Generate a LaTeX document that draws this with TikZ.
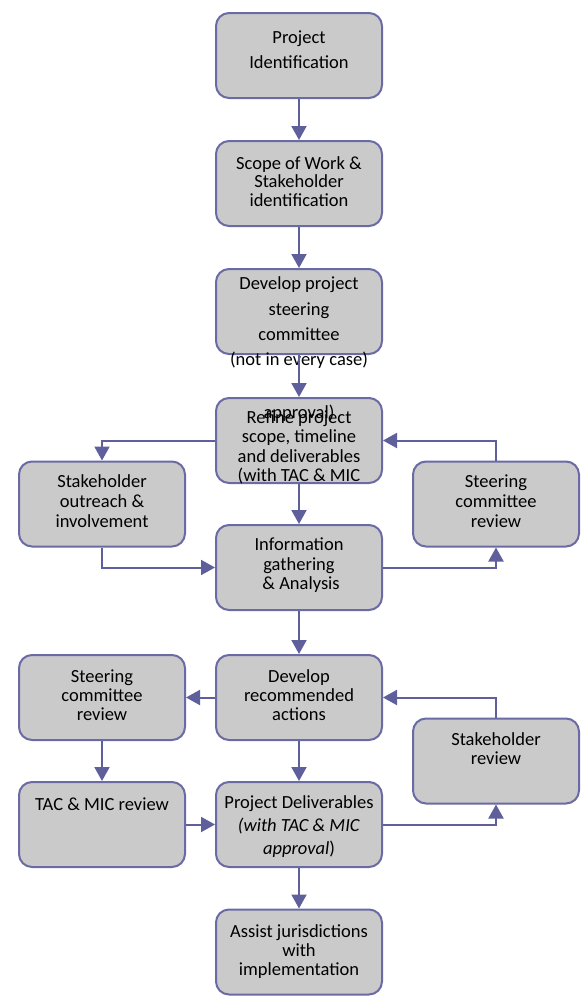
\documentclass[tikz,border=0pt]{standalone}
\usepackage{fontspec}
\setmainfont{Carlito}
\usetikzlibrary{arrows.meta}
\definecolor{boxfill}{HTML}{CACACA}
\definecolor{boxline}{HTML}{6A6AA4}
\definecolor{arrowcol}{HTML}{5F5F9B}
\tikzset{
  box/.style={draw=boxline, fill=boxfill, line width=2pt, rounded corners=13pt,
    minimum width=166pt, minimum height=85pt, inner sep=0pt},
  txt/.style={font=\fontsize{18.5}{#1}\selectfont, align=center, inner sep=0pt},
  txt/.default=19.5,
  arr/.style={draw=arrowcol, line width=2pt, -{Triangle[length=14pt,width=15pt]}}
}
\begin{document}
\begin{tikzpicture}[x=1pt,y=-1pt]
\useasboundingbox (0,0) rectangle (587,996);
% central column
\node[box] (b1) at (299,55.5) {};
\node[box] (b2) at (299,183.5) {};
\node[box] (b3) at (299,311.5) {};
\node[box] (b4) at (299,440.5) {};
\node[box] (b5) at (299,567.5) {};
\node[box] (b6) at (299,697.5) {};
\node[box] (b7) at (299,824.5) {};
\node[box] (b8) at (299,952) {};
% side boxes
\node[box] (l1) at (102,504) {};
\node[box] (r1) at (496,504) {};
\node[box] (l2) at (102,697.5) {};
\node[box] (l3) at (102,824.5) {};
\node[box] (r2) at (496,761) {};
% texts
\node[txt=24.5] (t1) at (299,49.5) {Project\\Identification};
\node[txt=18.5] (t2) at (299,181.5) {Scope of Work \&\\Stakeholder\\identification};
\node[txt=25.3] (t3) at (299,323) {Develop project\\steering\\committee\\(not in every case)};
\node[txt=19.3] (t4) at (299,447.5) {Refine project\\scope, timeline\\and deliverables\\(with TAC \& MIC};
\node[txt] (t4b) at (299,413) {approval)};
\node[txt=20] (tl1) at (102,501) {Stakeholder\\outreach \&\\involvement};
\node[txt=20] (tr1) at (496,501) {Steering\\committee\\review};
\node[txt] (t5) at (299,565.5) {Information\\gathering\\\ \& Analysis};
\node[txt=19] (t6) at (299,695) {Develop\\recommended\\actions};
\node[txt=19] (tl2) at (102,695) {Steering\\committee\\review};
\node[txt=19] (tr2) at (496,748.5) {Stakeholder\\review};
\node[txt] (tl3) at (102,804) {TAC \& MIC review};
\node[txt=23] (t7) at (299,827) {Project Deliverables\\\textit{(with TAC \& MIC}\\\textit{approval})};
\node[txt=19] (t8) at (299,952) {Assist jurisdictions\\with\\implementation};
% vertical arrows
\draw[arr] (b1) -- (b2);
\draw[arr] (b2) -- (b3);
\draw[arr] (b3) -- (b4);
\draw[arr] (b4) -- (b5);
\draw[arr] (b5) -- (b6);
\draw[arr] (b6) -- (b7);
\draw[arr] (b7) -- (b8);
% loops
\draw[arr] (b4.west) -| (l1.north);
\draw[arr] (l1.south) |- (b5.west);
\draw[arr] (b5.east) -| (r1.south);
\draw[arr] (r1.north) |- (b4.east);
\draw[arr] (b6.west) -- (l2.east);
\draw[arr] (l2) -- (l3);
\draw[arr] (l3.east) -- (b7.west);
\draw[arr] (b7.east) -| (r2.south);
\draw[arr] (r2.north) |- (b6.east);
\end{tikzpicture}
\end{document}
